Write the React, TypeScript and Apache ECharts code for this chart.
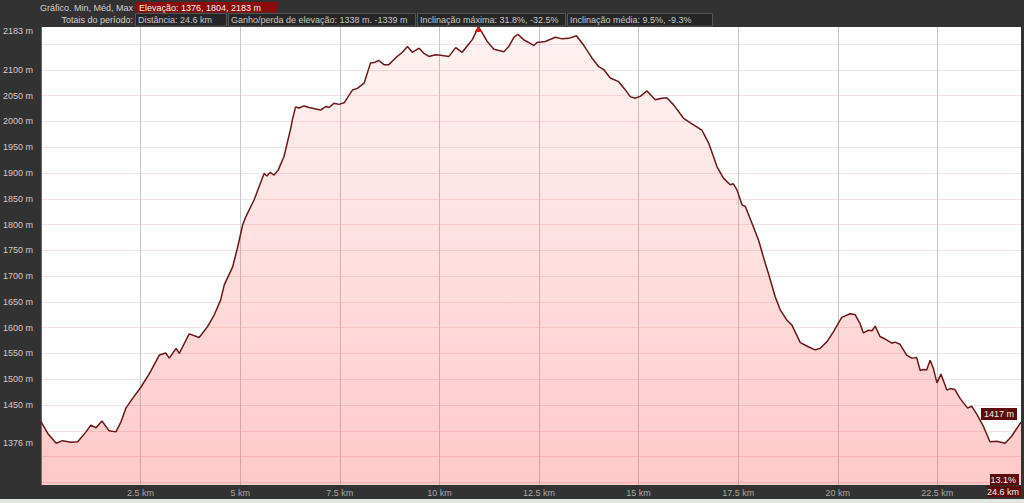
import { useEffect, useRef } from "react";
import * as echarts from "echarts";

// Distance along the track (km)
const distanceKm = [
  0.0, 0.17, 0.38, 0.54, 0.75, 0.92, 1.13, 1.25, 1.38, 1.53, 1.71, 1.88, 2.01, 2.13, 2.3, 2.51,
  2.72, 2.97, 3.13, 3.22, 3.39, 3.47, 3.72, 3.97, 4.18, 4.35, 4.51, 4.6, 4.81, 4.93, 5.06, 5.14,
  5.35, 5.6, 5.67, 5.75, 5.85, 5.95, 6.1, 6.27,
  6.31, 6.39, 6.48, 6.6, 6.73, 6.9, 7.02, 7.15, 7.23, 7.35, 7.48, 7.61, 7.82, 7.94, 8.11, 8.27,
  8.36, 8.48, 8.61, 8.73, 8.9, 9.07, 9.2, 9.32, 9.49, 9.61, 9.74, 9.9, 10.03, 10.24, 10.41, 10.57,
  10.74, 10.83, 10.98, 11.08, 11.2, 11.37, 11.62, 11.74, 11.87, 11.97, 12.12, 12.24, 12.37,
  12.45, 12.66, 12.91, 13.08, 13.25, 13.44, 13.62, 13.83, 14.0, 14.12, 14.29, 14.5, 14.67, 14.79,
  14.92, 15.05, 15.21, 15.42, 15.59, 15.71, 15.88, 16.13, 16.34, 16.59, 16.76, 16.97, 17.13, 17.3,
  17.38, 17.47, 17.6, 17.68, 17.85, 18.01, 18.18, 18.26,
  18.43, 18.56, 18.72, 18.85, 19.06, 19.26, 19.43, 19.56, 19.73, 19.89, 20.1, 20.31, 20.44, 20.56,
  20.64, 20.77, 20.86, 20.94, 21.06, 21.19, 21.36, 21.44, 21.56, 21.73, 21.86, 21.98, 22.07, 22.15,
  22.23, 22.32, 22.4, 22.49, 22.59, 22.74, 22.82, 22.94, 23.07, 23.26, 23.36, 23.5, 23.66, 23.82,
  23.99, 24.2, 24.36, 24.6,
];

// Elevation (m)
const elevationM = [
  1418, 1395, 1376, 1381, 1378, 1379, 1398, 1411, 1406, 1419, 1400, 1398, 1418, 1444, 1463, 1485,
  1511, 1547, 1551, 1541, 1560, 1550, 1588, 1581, 1602, 1625, 1654, 1683, 1718, 1754, 1799, 1815,
  1848, 1899, 1894, 1901, 1896, 1905, 1932, 1987,
  2003, 2028, 2026, 2030, 2027, 2024, 2022, 2029, 2027, 2035, 2033, 2036, 2061, 2064, 2074, 2113,
  2114, 2118, 2110, 2110, 2123, 2134, 2145, 2134, 2142, 2132, 2126, 2129, 2128, 2126, 2143, 2134,
  2150, 2159, 2183, 2171, 2155, 2140, 2135, 2145, 2163, 2169, 2158, 2153, 2147,
  2153, 2155, 2163, 2160, 2161, 2166, 2148, 2123, 2106, 2101, 2084, 2077, 2061, 2048,
  2045, 2049, 2059, 2042, 2045, 2046, 2032, 2006, 1995, 1983, 1958, 1912, 1890, 1877,
  1879, 1867, 1838, 1835, 1802, 1770, 1725, 1705,
  1660, 1634, 1615, 1605, 1571, 1563, 1557, 1560, 1573, 1592, 1620, 1627, 1625, 1608,
  1590, 1595, 1594, 1603, 1583, 1578, 1570, 1572, 1568, 1547, 1541, 1542, 1517, 1519,
  1518, 1537, 1521, 1493, 1510, 1479, 1482, 1480, 1463, 1444, 1448, 1431, 1408, 1379,
  1380, 1376, 1389, 1417,
];

const yLabelValues = [1376, 1450, 1500, 1550, 1600, 1650, 1700, 1750, 1800, 1850, 1900, 1950, 2000, 2050, 2100, 2183];
const yGridValues = [1300, 1350, 1400, 1450, 1500, 1550, 1600, 1650, 1700, 1750, 1800, 1850, 1900, 1950, 2000, 2050, 2100, 2150];
const xTickValues = [2.5, 5, 7.5, 10, 12.5, 15, 17.5, 20, 22.5];
const yMin = 1295;
const yMax = 2183;
const xMax = 24.6;

const headerRow1Label = "Gráfico. Min, Méd, Max";
const headerRow1Value = "Elevação: 1376, 1804, 2183 m";
const headerRow2Label = "Totais do período:";
const headerRow2Items = [
  "Distância: 24.6 km",
  "Ganho/perda de elevação: 1338 m. -1339 m",
  "Inclinação máxima: 31.8%, -32.5%",
  "Inclinação média: 9.5%, -9.3%",
];
const cursorGrade = "13.1%";
const cursorDistance = "24.6 km";

const FONT = '"Liberation Sans", Arial, sans-serif';

export default function App() {
  const ref = useRef<HTMLDivElement>(null);
  useEffect(() => {
    document.body.style.margin = "0";
    const chart = echarts.init(ref.current!, null, { renderer: "svg" });
    const data = distanceKm.map((d, i) => [d, elevationM[i]]);

    const boxX = [135, 228, 417, 567];
    const boxW = [91, 187, 148, 145];
    const graphic: any[] = [
      { type: "rect", shape: { x: 135, y: 2, width: 142, height: 10.5 }, style: { fill: "#8c0b0b" }, z: 10 },
      { type: "text", x: 133, y: 7.5, style: { text: headerRow1Label, font: `9px ${FONT}`, fill: "#d0d0d0", textAlign: "right", align: "right", textVerticalAlign: "middle", verticalAlign: "middle" }, z: 11 },
      { type: "text", x: 139, y: 7.5, style: { text: headerRow1Value, font: `9px ${FONT}`, fill: "#f0f0f0", textVerticalAlign: "middle", verticalAlign: "middle" }, z: 11 },
      { type: "text", x: 133, y: 19.5, style: { text: headerRow2Label, font: `9px ${FONT}`, fill: "#d0d0d0", textAlign: "right", align: "right", textVerticalAlign: "middle", verticalAlign: "middle" }, z: 11 },
      { type: "rect", shape: { x: 0, y: 499, width: 1024, height: 4 }, style: { fill: "#e2e6de" }, z: 10 },
      { type: "rect", shape: { x: 990, y: 474, width: 29, height: 11 }, style: { fill: "#5e0b0b" }, z: 10 },
      { type: "text", x: 1016, y: 479.5, style: { text: cursorGrade, font: `9px ${FONT}`, fill: "#eeeeee", textAlign: "right", align: "right", textVerticalAlign: "middle", verticalAlign: "middle" }, z: 11 },
      { type: "rect", shape: { x: 987, y: 486, width: 34, height: 11 }, style: { fill: "#5e0b0b" }, z: 10 },
      { type: "text", x: 1019, y: 491.5, style: { text: cursorDistance, font: `9px ${FONT}`, fill: "#eeeeee", textAlign: "right", align: "right", textVerticalAlign: "middle", verticalAlign: "middle" }, z: 11 },
    ];
    headerRow2Items.forEach((t, i) => {
      graphic.push({ type: "rect", shape: { x: boxX[i] + 0.5, y: 13.5, width: boxW[i], height: 12.5 }, style: { fill: "#262626", stroke: "#555555", lineWidth: 1 }, z: 10 });
      graphic.push({ type: "text", x: boxX[i] + 3, y: 19.5, style: { text: t, font: `9px ${FONT}`, fill: "#c8c8c8", textVerticalAlign: "middle", verticalAlign: "middle" }, z: 11 });
    });

    chart.setOption({
      animation: false,
      backgroundColor: "#323232",
      textStyle: { fontFamily: FONT },
      grid: { left: 40, right: 3, top: 27, bottom: 18, show: true, backgroundColor: "#ffffff", borderWidth: 0 },
      xAxis: {
        type: "value",
        min: 0,
        max: xMax,
        axisLine: { show: false },
        axisTick: { show: false, customValues: xTickValues },
        axisLabel: { customValues: xTickValues, formatter: (v: number) => `${v} km`, color: "#a8a8a8", fontSize: 9, margin: 3 },
        splitLine: { show: true, lineStyle: { color: "#c6c6c6", width: 1 } },
      },
      yAxis: {
        type: "value",
        min: yMin,
        max: yMax,
        axisLine: { show: true, lineStyle: { color: "#666666" } },
        axisTick: { show: false, customValues: yGridValues },
        axisLabel: {
          customValues: yLabelValues,
          formatter: (v: number) => (v === yMax ? `{top|${v} m}` : `${v} m`),
          color: "#dcc6c6",
          fontSize: 9,
          margin: 8,
          rich: { top: { color: "#dcc6c6", fontSize: 9, padding: [8, 0, 0, 0] } },
        },
        splitLine: { show: true, lineStyle: { color: "#f3e1e1", width: 1 } },
      },
      series: [
        {
          type: "line",
          data,
          symbol: "none",
          showSymbol: false,
          lineStyle: { color: "#6a1818", width: 1.5 },
          areaStyle: {
            origin: "start",
            color: new echarts.graphic.LinearGradient(0, 0, 0, 1, [
              { offset: 0, color: "rgba(255,110,110,0.12)" },
              { offset: 1, color: "rgba(255,80,80,0.45)" },
            ]),
          },
          endLabel: {
            show: true,
            formatter: (p: any) => `${p.value[1]} m`,
            color: "#eeeeee",
            fontSize: 9,
            backgroundColor: "#5e0b0b",
            padding: [2, 3, 1, 3],
            align: "right",
            verticalAlign: "middle",
            distance: 0,
            offset: [-4, -8],
          },
          markPoint: {
            symbol: "triangle",
            symbolSize: [8, 6],
            symbolOffset: [0, 2],
            itemStyle: { color: "#c81e1e" },
            label: { show: false },
            data: [{ type: "max" }],
          },
        },
      ],
      graphic,
    });
    return () => chart.dispose();
  }, []);
  return <div ref={ref} style={{ width: 1024, height: 503, background: "#323232" }} />;
}
